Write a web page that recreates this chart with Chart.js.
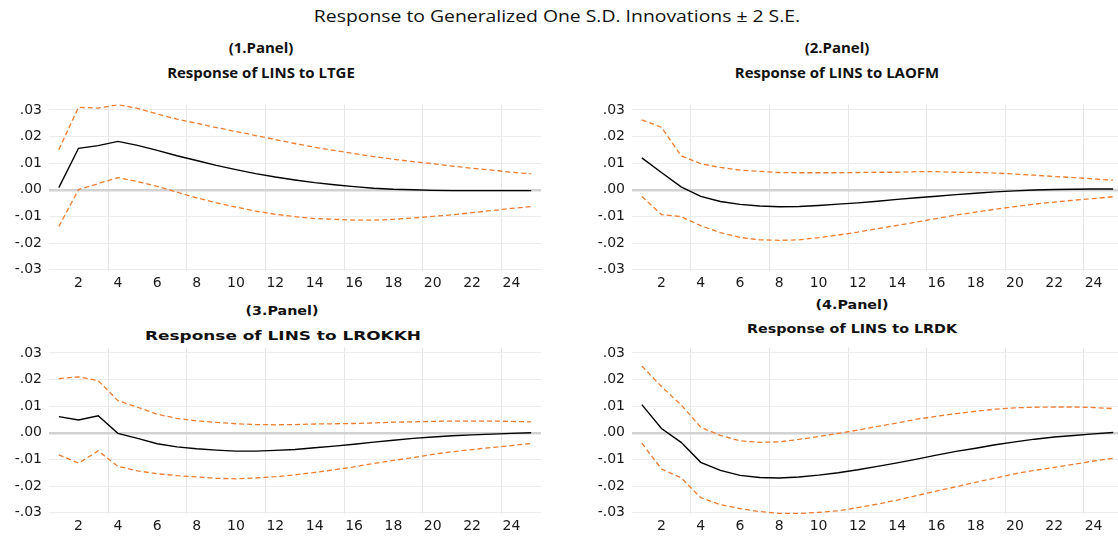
<!DOCTYPE html>
<html>
<head>
<meta charset="utf-8">
<title>Response to Generalized One S.D. Innovations</title>
<script src="https://cdn.jsdelivr.net/npm/chart.js@4.4.0/dist/chart.umd.min.js"></script>
<style>
  html, body { margin: 0; padding: 0; background: #fff; overflow: hidden; }
  #page { position: relative; width: 1118px; height: 536px; overflow: hidden; }
  canvas { position: absolute; }
  .ttl { position: absolute; white-space: nowrap; color: #111; line-height: 1; }
  .main { font-family: "Open Sans", sans-serif; font-size: 16px; transform: translate(-50%, -50%) scaleX(1.21); }
  .narrow { font-family: "Open Sans", sans-serif; font-weight: bold; font-size: 14px; transform: translate(-50%, -50%) scaleX(1.07); }
  .wide { font-family: "DejaVu Sans", sans-serif; font-weight: bold; font-size: 13px; transform: translate(-50%, -50%) scaleX(1.1); }
  .wider { font-family: "DejaVu Sans", sans-serif; font-weight: bold; font-size: 13px; transform: translate(-50%, -50%) scaleX(1.3); }
</style>
</head>
<body>
<div id="page">
  <div class="ttl main" style="left:557px; top:16px;">Response to Generalized One S.D. Innovations ± 2 S.E.</div>

  <div class="ttl narrow" style="left:261px; top:48px;">(1.Panel)</div>
  <div class="ttl narrow" style="left:261px; top:73px;">Response of LINS to LTGE</div>
  <div class="ttl narrow" style="left:837px; top:48px;">(2.Panel)</div>
  <div class="ttl narrow" style="left:837px; top:73px;">Response of LINS to LAOFM</div>
  <div class="ttl wide" style="left:282px; top:310px;">(3.Panel)</div>
  <div class="ttl wider" style="left:283px; top:335px;">Response of LINS to LROKKH</div>
  <div class="ttl wide" style="left:852px; top:304px;">(4.Panel)</div>
  <div class="ttl wide" style="left:852px; top:328px;">Response of LINS to LRDK</div>

  <canvas id="panel-1" width="541" height="207" style="left:0px; top:89px;"></canvas>
  <canvas id="panel-2" width="540" height="207" style="left:583px; top:89px;"></canvas>
  <canvas id="panel-3" width="541" height="207" style="left:0px; top:332px;"></canvas>
  <canvas id="panel-4" width="540" height="207" style="left:583px; top:332px;"></canvas>
</div>

<script>
// horizon (periods) and axis ticks
var periods = ['1','2','3','4','5','6','7','8','9','10','11','12','13','14','15','16','17','18','19','20','21','22','23','24','25'];
var xTickLabels = ['2','4','6','8','10','12','14','16','18','20','22','24'];
var yTicks = [-0.03, -0.02, -0.01, 0, 0.01, 0.02, 0.03];

// (1.Panel) Response of LINS to LTGE
var resp1  = [0.0008, 0.0156, 0.0166, 0.0182, 0.0167, 0.0148, 0.0128, 0.0110, 0.0092, 0.0076, 0.0061, 0.0048, 0.0037, 0.0027, 0.0019, 0.0012, 0.0006, 0.0002, 0.0000, -0.0002, -0.0003, -0.0003, -0.0003, -0.0003, -0.0003];
var upper1 = [0.0151, 0.0310, 0.0307, 0.0320, 0.0306, 0.0285, 0.0266, 0.0250, 0.0234, 0.0219, 0.0204, 0.0189, 0.0174, 0.0160, 0.0148, 0.0136, 0.0125, 0.0115, 0.0106, 0.0098, 0.0089, 0.0081, 0.0074, 0.0066, 0.0060];
var lower1 = [-0.0138, 0.0001, 0.0023, 0.0046, 0.0031, 0.0013, -0.0009, -0.0030, -0.0049, -0.0065, -0.0080, -0.0092, -0.0101, -0.0108, -0.0111, -0.0114, -0.0114, -0.0111, -0.0106, -0.0100, -0.0094, -0.0086, -0.0078, -0.0070, -0.0063];

// (2.Panel) Response of LINS to LAOFM
var resp2  = [0.0120, 0.0065, 0.0011, -0.0025, -0.0044, -0.0055, -0.0061, -0.0064, -0.0063, -0.0059, -0.0054, -0.0049, -0.0043, -0.0036, -0.0030, -0.0024, -0.0018, -0.0013, -0.0008, -0.0004, -0.0001, 0.0001, 0.0002, 0.0003, 0.0003];
var upper2 = [0.0263, 0.0235, 0.0128, 0.0098, 0.0084, 0.0074, 0.0069, 0.0065, 0.0064, 0.0064, 0.0064, 0.0065, 0.0066, 0.0066, 0.0068, 0.0068, 0.0066, 0.0065, 0.0063, 0.0059, 0.0055, 0.0050, 0.0046, 0.0041, 0.0036];
var lower2 = [-0.0025, -0.0093, -0.0101, -0.0135, -0.0161, -0.0179, -0.0188, -0.0190, -0.0188, -0.0180, -0.0170, -0.0159, -0.0146, -0.0134, -0.0121, -0.0108, -0.0095, -0.0084, -0.0073, -0.0063, -0.0054, -0.0046, -0.0039, -0.0033, -0.0026];

// (3.Panel) Response of LINS to LROKKH
var resp3  = [0.0061, 0.0048, 0.0064, -0.0002, -0.0021, -0.0041, -0.0053, -0.0060, -0.0065, -0.0069, -0.0069, -0.0066, -0.0063, -0.0056, -0.0050, -0.0043, -0.0035, -0.0028, -0.0021, -0.0016, -0.0011, -0.0008, -0.0005, -0.0002, 0.0000];
var upper3 = [0.0204, 0.0210, 0.0196, 0.0121, 0.0096, 0.0070, 0.0054, 0.0045, 0.0039, 0.0034, 0.0031, 0.0030, 0.0031, 0.0033, 0.0034, 0.0035, 0.0037, 0.0040, 0.0041, 0.0043, 0.0044, 0.0044, 0.0044, 0.0043, 0.0041];
var lower3 = [-0.0083, -0.0114, -0.0068, -0.0126, -0.0143, -0.0154, -0.0161, -0.0166, -0.0171, -0.0173, -0.0170, -0.0165, -0.0158, -0.0149, -0.0139, -0.0128, -0.0115, -0.0104, -0.0093, -0.0081, -0.0071, -0.0063, -0.0055, -0.0048, -0.0040];

// (4.Panel) Response of LINS to LRDK
var resp4  = [0.0106, 0.0016, -0.0036, -0.0111, -0.0141, -0.0160, -0.0168, -0.0170, -0.0166, -0.0159, -0.0150, -0.0139, -0.0126, -0.0113, -0.0099, -0.0084, -0.0070, -0.0058, -0.0045, -0.0034, -0.0024, -0.0016, -0.0010, -0.0004, 0.0001];
var upper4 = [0.0251, 0.0174, 0.0105, 0.0021, -0.0010, -0.0030, -0.0036, -0.0034, -0.0025, -0.0014, -0.0002, 0.0010, 0.0024, 0.0037, 0.0051, 0.0062, 0.0072, 0.0081, 0.0089, 0.0094, 0.0096, 0.0097, 0.0097, 0.0095, 0.0091];
var lower4 = [-0.0039, -0.0136, -0.0169, -0.0244, -0.0270, -0.0285, -0.0296, -0.0303, -0.0303, -0.0299, -0.0293, -0.0281, -0.0268, -0.0253, -0.0236, -0.0219, -0.0203, -0.0186, -0.0170, -0.0154, -0.0141, -0.0130, -0.0118, -0.0106, -0.0096];

// ".03", ".00", "-.01" style labels
function fmtY(v) {
  var s = Math.abs(v).toFixed(2).replace(/^0/, '');
  return v < -0.0001 ? '-' + s : s;
}

function drawPanel(id, resp, upper, lower) {
  var bandStyle = {
    borderColor: '#ED7D31',
    borderWidth: 1.3,
    borderDash: [5, 3],
    pointRadius: 0,
    fill: false
  };
  new Chart(document.getElementById(id), {
    type: 'line',
    data: {
      labels: periods,
      datasets: [
        Object.assign({ label: 'Upper', data: upper }, bandStyle),
        Object.assign({ label: 'Lower', data: lower }, bandStyle),
        { label: 'Response', data: resp, borderColor: '#000', borderWidth: 1.4, pointRadius: 0, fill: false }
      ]
    },
    options: {
      responsive: false,
      animation: false,
      layout: { padding: 0 },
      plugins: { legend: { display: false }, tooltip: { enabled: false }, title: { display: false } },
      scales: {
        x: {
          type: 'category',
          offset: true,
          border: { display: false },
          grid: {
            offset: true,
            drawTicks: false,
            // only every fourth boundary carries a line
            color: function(ctx) { return ctx.index % 4 === 3 ? '#e6e6e6' : 'rgba(0,0,0,0)'; },
            lineWidth: 1
          },
          ticks: {
            autoSkip: false,
            maxRotation: 0,
            padding: 4,
            color: '#1a1a1a',
            font: { family: 'DejaVu Sans', size: 14 },
            callback: function(val) {
              var l = this.getLabelForValue(val);
              return xTickLabels.indexOf(l) >= 0 ? l : '';
            }
          }
        },
        y: {
          min: -0.0306,
          max: 0.0321,
          border: { display: false },
          afterBuildTicks: function(scale) {
            scale.ticks = yTicks.map(function(v) { return { value: v }; });
          },
          afterFit: function(scale) { scale.width = 49; },
          grid: {
            drawTicks: false,
            color: function(ctx) { return ctx.tick && ctx.tick.value === 0 ? '#d2d2d2' : '#ececec'; },
            lineWidth: function(ctx) { return ctx.tick && ctx.tick.value === 0 ? 2.5 : 1; }
          },
          ticks: {
            padding: 7,
            color: '#1a1a1a',
            font: { family: 'DejaVu Sans', size: 14 },
            callback: function(v) { return fmtY(v); }
          }
        }
      }
    }
  });
}

drawPanel('panel-1', resp1, upper1, lower1);
drawPanel('panel-2', resp2, upper2, lower2);
drawPanel('panel-3', resp3, upper3, lower3);
drawPanel('panel-4', resp4, upper4, lower4);
</script>
</body>
</html>
